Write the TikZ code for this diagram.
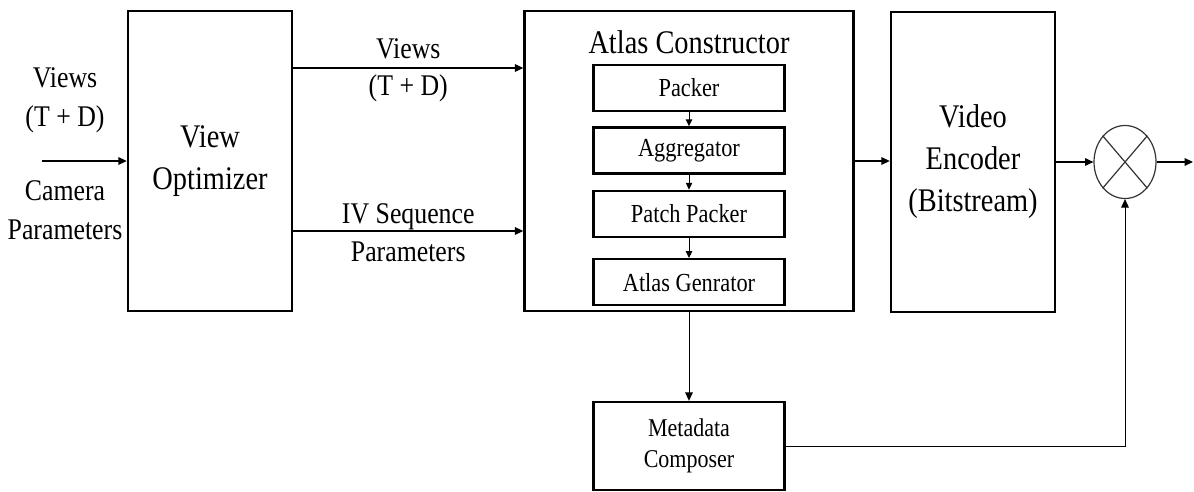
\documentclass[tikz,border=0pt]{standalone}
\usepackage{fontspec}
\setmainfont[FakeStretch=0.86]{Liberation Serif}
\usepackage{tikz}
\usetikzlibrary{arrows.meta,positioning,shapes.geometric}

\begin{document}
\begin{tikzpicture}[
  x=0.5pt, y=-0.5pt,
  box/.style={draw, line width=1.2pt, minimum width=82pt, minimum height=150pt,
              align=center, inner sep=0pt, font=\fontsize{16.5}{21}\selectfont},
  subbox/.style={draw, line width=1.2pt, minimum width=95.5pt, minimum height=23pt,
                 inner sep=0pt, font=\fontsize{13}{16}\selectfont},
  lbl/.style={align=center, inner sep=0.5pt, font=\fontsize{15}{19.5}\selectfont},
  arrow/.style={-{Triangle[length=4.2pt,width=3.8pt]}, line width=0.6pt},
  smallarrow/.style={-{Triangle[length=3.4pt,width=3.2pt]}, line width=0.5pt}
]
\useasboundingbox (0,0) rectangle (1194,492);

% main blocks
\node[box] (opt)   at (210,161) {View\\Optimizer};
\node[box, minimum width=164.5pt] (atlas) at (689,161) {};
\node[box] (video) at (973,162) {Video\\Encoder\\(Bitstream)};
\node[lbl, font=\fontsize{16.5}{21}\selectfont] (title) at (689,42) {Atlas Constructor};

% inside the atlas constructor
\node[subbox] (pack)  at (689,88) {Packer};
\node[subbox] (aggr)  [below=7pt of pack]  {Aggregator};
\node[subbox] (patch) [below=7.5pt of aggr] {Patch Packer};
\node[subbox] (agen)  [below=10pt of patch] {Atlas Genrator};

\draw[smallarrow] (pack) -- (aggr);
\draw[smallarrow] (aggr) -- (patch);
\draw[smallarrow] (patch) -- (agen);

\node[subbox, minimum height=44pt, align=center, font=\fontsize{12.8}{15.5}\selectfont]
  (meta) at (689,446) {Metadata\\Composer};

\node[draw=black!80, ellipse, minimum width=31pt, minimum height=36.5pt,
      inner sep=0pt, line width=0.6pt] (mix) at (1125,162) {};
\draw[black!80, line width=0.6pt] (mix.north west) -- (mix.south east)
                                  (mix.north east) -- (mix.south west);

% inputs
\coordinate (in) at (42,161);
\coordinate (out) at (1193,162);
\node[lbl] (views)  at (65,100) {Views\\(T + D)};
\node[lbl] (camera) at (65,210) {Camera\\Parameters};
\draw[arrow] (in) -- (opt.west);

% connections
\draw[arrow] ([yshift=46.5pt]opt.east) -- node[lbl, above=3.5pt]{Views}
  node[lbl, below=2.5pt]{(T + D)} ([yshift=46.5pt]atlas.west);
\draw[arrow] ([yshift=-35pt]opt.east) -- node[lbl, above=0pt]{IV Sequence}
  node[lbl, below=4.5pt]{Parameters} ([yshift=-35pt]atlas.west);
\draw[arrow] (atlas.east) -- (video.west |- atlas.east);
\draw[arrow] (video.east |- mix.west) -- (mix.west);
\draw[arrow] (mix.east) -- (out);
\draw[arrow, line width=0.45pt] (atlas.south) -- (meta.north);
\draw[arrow, line width=0.5pt] (meta.east) -| (mix.south);
\end{tikzpicture}
\end{document}
